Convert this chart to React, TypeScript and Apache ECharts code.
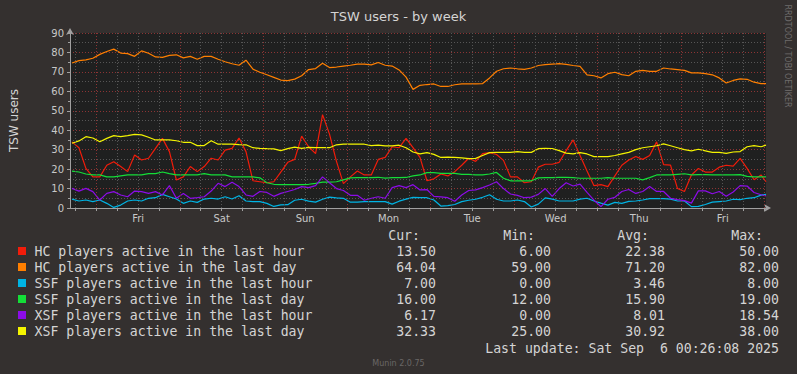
import React, { useEffect, useRef } from 'react';
import * as echarts from 'echarts';

const chartTitle = 'TSW users - by week';
const yAxisTitle = 'TSW users';
const sideNote = 'RRDTOOL / TOBI OETIKER';
const lastUpdate = 'Last update: Sat Sep  6 00:26:08 2025';
const versionNote = 'Munin 2.0.75';

// x values: hours since Thu 00:00
const xMin = 16.43;
const xMax = 216.43;
const dayNames = ['Fri', 'Sat', 'Sun', 'Mon', 'Tue', 'Wed', 'Thu', 'Fri'];
const dayNoonHours = [36, 60, 84, 108, 132, 156, 180, 204];
const gridHours = [18, 24, 30, 36, 42, 48, 54, 60, 66, 72, 78, 84, 90, 96, 102, 108, 114, 120, 126, 132, 138, 144, 150, 156, 162, 168, 174, 180, 186, 192, 198, 204, 210, 216];

const hours = [
  17, 19, 21, 23, 25, 27, 29, 31, 33, 35,
  37, 39, 41, 43, 45, 47, 49, 51, 53, 55,
  57, 59, 61, 63, 65, 67, 69, 71, 73, 75,
  77, 79, 81, 83, 85, 87, 89, 91, 93, 95,
  97, 99, 101, 103, 105, 107, 109, 111, 113, 115,
  117, 119, 121, 123, 125, 127, 129, 131, 133, 135,
  137, 139, 141, 143, 145, 147, 149, 151, 153, 155,
  157, 159, 161, 163, 165, 167, 169, 171, 173, 175,
  177, 179, 181, 183, 185, 187, 189, 191, 193, 195,
  197, 199, 201, 203, 205, 207, 209, 211, 213, 215,
  216.43,
];

const hcHour = [
  34, 31, 20.4, 16, 16, 22, 23.8, 21.3, 18.7, 27.3,
  24.7, 25.6, 30.7, 35.8, 29, 14.4, 16, 21.3, 18.7, 21.3,
  25.6, 24.7, 29.8, 30.7, 36, 29, 14, 13.5, 13, 13.5,
  18.5, 23.5, 25, 37, 31.5, 28, 48, 38, 24, 12.5,
  16, 19, 17, 17, 25, 26, 31.5, 31, 35.8, 31,
  26, 14, 15, 17.5, 16.5, 18.7, 22, 25.6, 24, 28,
  28.5, 27.5, 24.5, 16, 16, 13, 13.5, 21, 22.5, 22.5,
  23.5, 29.5, 35, 27, 19, 11.5, 12, 11, 16.5, 22,
  24.7, 26.5, 25, 27, 34, 22.3, 22, 10, 8.5, 17,
  20.3, 18.5, 18.5, 21, 22, 21.5, 25.5, 20.4, 14.5, 17,
  13.5,
];

const hcDay = [
  74.6, 75.8, 76.2, 77, 79, 80.5, 81.7, 79.7, 79.4, 78,
  80.8, 79.6, 77.7, 77.5, 78.5, 78.8, 77.2, 78, 76.5, 78,
  78, 76.5, 75.2, 74.2, 73.4, 76, 71.4, 69.8, 68.5, 67.2,
  65.8, 65.5, 66.3, 68, 71.2, 71.7, 74.4, 72.2, 72.5, 73,
  73.4, 74, 74, 73.6, 74.8, 73.4, 73, 71, 67.3, 61,
  63.1, 63.5, 63.8, 62.5, 62.5, 63.4, 63.8, 63.8, 63.8, 64,
  66.9, 70.3, 71.6, 72, 71.6, 71.3, 72, 73.3, 73.7, 74,
  74.2, 73.9, 73.3, 72.8, 68.5, 68, 66.9, 69.1, 69.8, 68.6,
  68, 70.3, 70.8, 70.3, 70.3, 72, 71.5, 71.2, 70.8, 69.5,
  69.5, 69.1, 68.5, 66.9, 64.3, 65.6, 66.4, 66.2, 64.7, 64,
  64,
];

const ssfHour = [
  4.6, 3.6, 4.1, 3.3, 4.1, 2.4, 0.3, 1.5, 3.6, 4.1,
  3.6, 5, 5.3, 7, 5.8, 4.6, 2.4, 3.6, 2.9, 4.6,
  5, 4.6, 5.8, 4.6, 6.3, 3.6, 3.3, 3.3, 2.4, 0.8,
  1.6, 1.7, 4, 4.5, 3.5, 3, 4.5, 5.6, 5.2, 5,
  3, 3, 3.3, 3.3, 3.3, 3.3, 2, 3.5, 4.6, 5.5,
  5.3, 5.3, 4.1, 1, 1.2, 1.8, 3.3, 4, 4.5, 5.5,
  6.8, 4.5, 3.6, 3.6, 4.1, 3.3, 0.5, 2, 5.2, 4.6,
  3.6, 3.6, 3.6, 4.6, 5, 3.6, 2.5, 1.5, 2.9, 2.4,
  3.4, 3.6, 4.1, 4.8, 4.8, 4.8, 4.6, 3.6, 3.6, 0.7,
  0.8, 1.8, 3, 3.3, 3.6, 4.5, 4.3, 5, 5.3, 6.6,
  7,
];

const ssfDay = [
  19, 18.5, 17.5, 17, 17, 16, 16, 16.5, 17, 17,
  17, 17.7, 17.7, 18.5, 17.7, 17, 17, 17, 17, 17.7,
  17, 17, 17, 16, 16, 16, 16, 15.5, 13, 12.2,
  12, 12, 12, 12, 12.2, 12.7, 13.3, 13.3, 13.5, 14.5,
  15.5, 15.6, 15.6, 15.6, 15.8, 15.4, 15.6, 15.6, 15.7, 16.5,
  17, 18.2, 18.2, 17.8, 17.8, 17.8, 17.3, 17.3, 17, 17,
  17.5, 18.3, 15.3, 14, 14, 14, 14, 15.5, 15.6, 15.6,
  15.8, 15.8, 15.6, 15.3, 15.3, 15.3, 15.3, 15.6, 15.3, 15.3,
  15.3, 15.3, 14.5, 15.6, 17, 17, 17, 17.3, 17.6, 17,
  17.2, 17.2, 17, 17, 17, 17, 17.2, 16.3, 16, 16,
  16,
];

const xsfHour = [
  10.1, 8.7, 10.1, 8.4, 4.1, 7.5, 8.4, 6.7, 5.8, 8.7,
  8.4, 7.5, 8.4, 6.7, 11.5, 5, 7.5, 5, 5.3, 5.8,
  8.7, 12.7, 11, 13.2, 11, 6.7, 6, 8.5, 8, 6,
  7.5, 8.5, 9.5, 11, 10.5, 11.5, 16, 13, 10, 9,
  6.5, 6.5, 4, 5, 5.8, 5, 10.5, 11.5, 10.5, 12,
  9.3, 9.5, 6, 5.7, 5.3, 3.5, 6.7, 9, 9.3, 10.5,
  11.8, 13.5, 10, 7.2, 6.5, 5.3, 5.6, 7, 10, 6,
  10, 13, 11.3, 12.3, 8, 4, 0.7, 4.5, 5.5, 8.5,
  9.5, 7.5, 8.5, 11, 8.5, 8.5, 5, 4.3, 3.8, 2.5,
  8.8, 8.8, 7.3, 8.5, 6, 8.2, 11.5, 11.3, 8, 6.8,
  6.2,
];

const xsfDay = [
  33.3, 34.5, 36.7, 36, 34.1, 35.8, 37.2, 36.7, 37.2, 37.9,
  37.6, 36.4, 35, 35, 35, 34.6, 33.8, 33.8, 32.1, 32.1,
  34.6, 32.8, 32.8, 32.8, 32.6, 32.5, 31, 30.7, 30.5, 30.4,
  29.5, 30.5, 31.3, 30.7, 31.2, 31, 31, 31, 32.5, 32.8,
  32.8, 32.8, 32.8, 32.1, 32.3, 32, 32, 32.3, 31, 28.8,
  27.8, 28.5, 27.6, 26, 26.2, 26, 25.8, 25.4, 25.5, 27,
  28.5, 28.6, 28.6, 28.6, 29, 28.6, 28.6, 30.5, 30.7, 30.6,
  29.5, 28.2, 27.8, 28.5, 27.8, 26.4, 26.4, 26.4, 27, 27.8,
  28.6, 30, 31, 31.5, 32, 33, 32, 31, 30, 29.4,
  30.2, 29.4, 28.6, 28.6, 28.1, 28.8, 29, 31.5, 32.1, 31.5,
  32.3,
];

const seriesNames = [
  'HC players active in the last hour',
  'HC players active in the last day',
  'SSF players active in the last hour',
  'SSF players active in the last day',
  'XSF players active in the last hour',
  'XSF players active in the last day',
];
const seriesValues = [hcHour, hcDay, ssfHour, ssfDay, xsfHour, xsfDay];
const seriesColors = ['#f21c0a', '#ff7f00', '#00b4e4', '#14de38', '#8c0ce8', '#f4f400'];

const statHeaders = ['Cur:', 'Min:', 'Avg:', 'Max:'];
const statCur = [13.5, 64.04, 7.0, 16.0, 6.17, 32.33];
const statMin = [6.0, 59.0, 0.0, 12.0, 0.0, 25.0];
const statAvg = [22.38, 71.2, 3.46, 15.9, 8.01, 30.92];
const statMax = [50.0, 82.0, 8.0, 19.0, 18.54, 38.0];

const BG = '#34302f';
const PLOT_BG = '#1f2020';
const TEXT = '#d4d4d4';
const AXIS = '#a0a0a0';
const GRID_RED = '#8c3434';
const GRID_GRAY = '#565656';
const MONO = '"DejaVu Sans Mono", monospace';
const SANS = '"DejaVu Sans", sans-serif';

export default function App() {
  const ref = useRef<HTMLDivElement>(null);

  useEffect(() => {
    document.body.style.margin = '0';
    const chart = echarts.init(ref.current as HTMLDivElement, null, { renderer: 'svg' });

    const legendGraphics: any[] = [];
    const statCols = [statCur, statMin, statAvg, statMax];
    const valueRight = [436, 551, 665, 779];
    const headerRight = [420, 535, 649, 763];
    const legendFont = `13.2px ${MONO}`;
    statHeaders.forEach((h, j) => {
      legendGraphics.push({
        type: 'text',
        x: headerRight[j],
        y: 235,
        style: { text: h, fill: TEXT, font: legendFont, textAlign: 'right', textVerticalAlign: 'middle' },
      });
    });
    seriesNames.forEach((name, i) => {
      const cy = 251 + 16 * i;
      legendGraphics.push({
        type: 'rect',
        shape: { x: 18, y: cy - 4, width: 8, height: 8 },
        style: { fill: seriesColors[i] },
      });
      legendGraphics.push({
        type: 'text',
        x: 34.5,
        y: cy,
        style: { text: name, fill: TEXT, font: legendFont, textAlign: 'left', textVerticalAlign: 'middle' },
      });
      statCols.forEach((col, j) => {
        legendGraphics.push({
          type: 'text',
          x: valueRight[j],
          y: cy,
          style: { text: col[i].toFixed(2), fill: TEXT, font: legendFont, textAlign: 'right', textVerticalAlign: 'middle' },
        });
      });
    });
    legendGraphics.push({
      type: 'text',
      x: 779,
      y: 348,
      style: { text: lastUpdate, fill: TEXT, font: legendFont, textAlign: 'right', textVerticalAlign: 'middle' },
    });
    legendGraphics.push({
      type: 'text',
      x: 398.5,
      y: 363,
      style: { text: versionNote, fill: '#6a6766', font: `8px ${SANS}`, textAlign: 'center', textVerticalAlign: 'middle' },
    });
    legendGraphics.push({
      type: 'text',
      x: 787,
      y: 56,
      rotation: -Math.PI / 2,
      style: { text: sideNote, fill: '#6f6c6b', font: `8px ${SANS}`, textAlign: 'center', textVerticalAlign: 'middle' },
    });

    const option: any = {
      animation: false,
      backgroundColor: BG,
      textStyle: { fontFamily: SANS },
      title: {
        text: chartTitle,
        left: 'center',
        top: 5,
        textStyle: { color: TEXT, fontSize: 13, fontWeight: 'normal', fontFamily: SANS },
      },
      grid: {
        left: 66,
        top: 33,
        width: 700,
        height: 175,
        show: true,
        backgroundColor: PLOT_BG,
        borderWidth: 0,
      },
      xAxis: {
        type: 'value',
        min: xMin,
        max: xMax,
        axisLine: {
          show: true,
          lineStyle: { color: AXIS, width: 1 },
          symbol: ['none', 'arrow'],
          symbolSize: [6, 7],
          symbolOffset: [0, 5],
        },
        axisTick: { show: true, customValues: gridHours, length: 3, lineStyle: { color: AXIS } },
        axisLabel: {
          customValues: dayNoonHours,
          formatter: (v: number) => dayNames[dayNoonHours.indexOf(v)] ?? '',
          color: '#c8c8c8',
          fontSize: 10,
          margin: 5,
          fontFamily: SANS,
        },
        splitLine: { show: false },
      },
      yAxis: {
        type: 'value',
        min: 0,
        max: 90,
        interval: 10,
        name: yAxisTitle,
        nameLocation: 'middle',
        nameRotate: 90,
        nameGap: 50,
        nameTextStyle: { color: TEXT, fontSize: 12, fontFamily: SANS },
        axisLine: {
          show: true,
          lineStyle: { color: AXIS, width: 1 },
          symbol: ['none', 'arrow'],
          symbolSize: [6, 7],
          symbolOffset: [0, 5],
        },
        axisTick: { show: true, length: 3, lineStyle: { color: AXIS } },
        minorTick: { show: true, splitNumber: 2, length: 2, lineStyle: { color: AXIS } },
        axisLabel: { color: '#c8c8c8', fontSize: 10, margin: 6, fontFamily: SANS },
        splitLine: { show: true, lineStyle: { color: GRID_RED, width: 1, type: [1, 2] } },
        minorSplitLine: { show: true, lineStyle: { color: GRID_GRAY, width: 1, type: [1, 2] } },
      },
      series: [
        {
          type: 'line',
          name: 'grid',
          data: [],
          z: 1,
          silent: true,
          markLine: {
            silent: true,
            symbol: ['none', 'none'],
            label: { show: false },
            animation: false,
            data: gridHours.map((h) => ({
              xAxis: h,
              lineStyle: { color: h % 24 === 0 ? GRID_RED : GRID_GRAY, width: 1, type: [1, 2] },
            })),
          },
        },
        ...seriesNames.map((name, i) => ({
          type: 'line',
          name,
          data: hours.map((h, k) => [h, seriesValues[i][k]]),
          showSymbol: false,
          symbol: 'none',
          lineStyle: { color: seriesColors[i], width: 1.2 },
          itemStyle: { color: seriesColors[i] },
          z: 3,
        })),
      ],
      graphic: legendGraphics,
    };

    chart.setOption(option);
    return () => chart.dispose();
  }, []);

  return <div ref={ref} style={{ position: 'fixed', left: 0, top: 0, width: 797, height: 374 }} />;
}
